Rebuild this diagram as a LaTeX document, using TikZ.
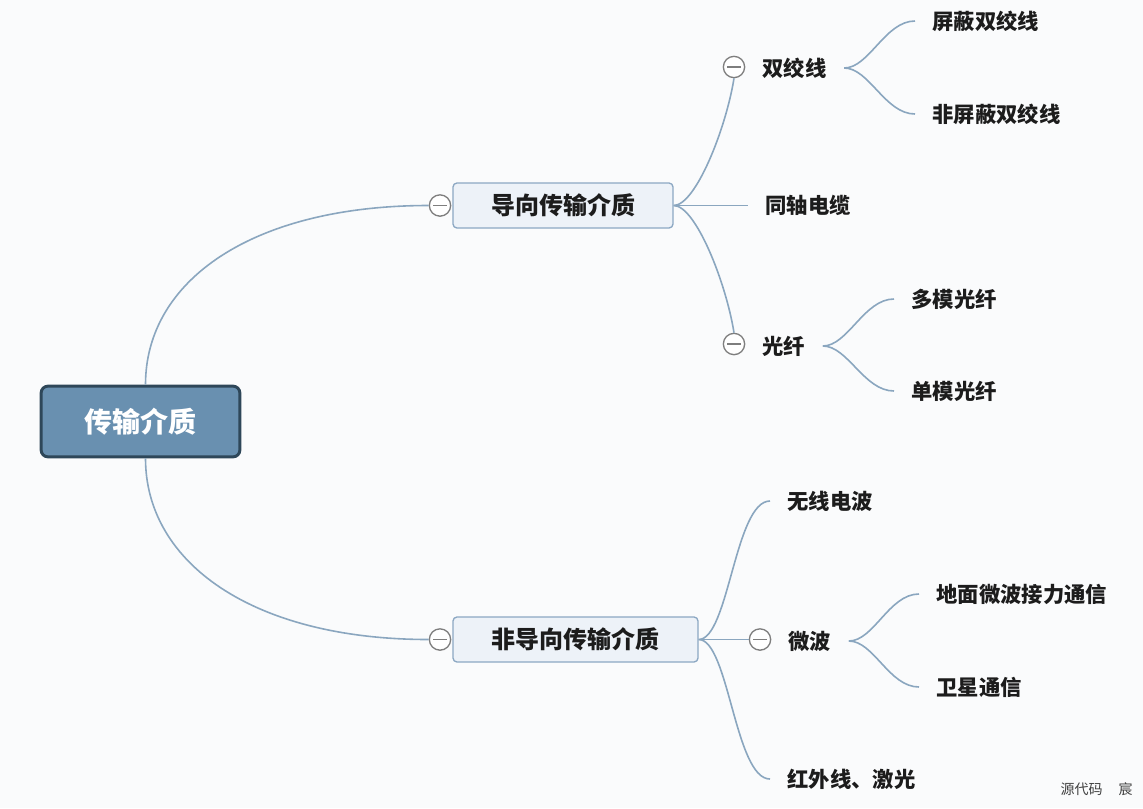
\documentclass[tikz,border=0pt]{standalone}
\usepackage{fontspec}
\setmainfont{Noto Sans CJK SC}
\definecolor{bgc}{HTML}{FAFBFC}
\definecolor{rootfill}{HTML}{6990B0}
\definecolor{rootborder}{HTML}{2E4759}
\definecolor{mainfill}{HTML}{EDF2F8}
\definecolor{mainborder}{HTML}{8CA8C3}
\definecolor{linkc}{HTML}{8AA6BF}
\definecolor{ink}{HTML}{1C1C1C}
\definecolor{togglec}{HTML}{7E7E7E}
\begin{document}
\begin{tikzpicture}[x=0.75pt,y=-0.75pt,
  conn/.style={draw=linkc,line width=1.2pt},
  rootbox/.style={rectangle,rounded corners=5pt,fill=rootfill,draw=rootborder,line width=2.2pt,
    minimum width=149pt,minimum height=53pt,text=white,font=\bfseries\fontsize{21}{24}\selectfont},
  mainbox/.style={rectangle,rounded corners=3pt,fill=mainfill,draw=mainborder,line width=1pt,
    minimum height=33.75pt,text=ink,font=\bfseries\fontsize{18}{20}\selectfont},
  toggle/.style={circle,draw=togglec,fill=white,minimum size=16pt,inner sep=0pt,line width=1pt,
    path picture={\draw[togglec,line width=1pt] ([xshift=-5pt]path picture bounding box.center) -- ([xshift=5pt]path picture bounding box.center);}},
  leaf/.style={anchor=west,inner xsep=13pt,inner ysep=2pt,text=ink,font=\bfseries\fontsize{16}{18}\selectfont}
]
\fill[bgc] (0,0) rectangle (1143,808);
\useasboundingbox (0,0) rectangle (1143,808);

% root and main nodes
\node[rootbox] (root) at (140.5,421.5) {传输介质};
\node[mainbox,minimum width=165pt] (g1) at (563,205.5) {导向传输介质};
\node[mainbox,minimum width=183.75pt] (g2) at (575.5,639.5) {非导向传输介质};
\node[toggle] (cg1) at (440,205.5) {};
\node[toggle] (cg2) at (440,639.5) {};

% guided children
\node[toggle] (ctw) at (734,67) {};
\node[leaf] (tw) at (745,68) {双绞线};
\node[leaf] (pb) at (915,21) {屏蔽双绞线};
\node[leaf] (fpb) at (915,114) {非屏蔽双绞线};
\node[leaf] (coax) at (748,205.5) {同轴电缆};
\node[toggle] (cfib) at (734,344) {};
\node[leaf] (fib) at (745,346) {光纤};
\node[leaf] (mm) at (894,299) {多模光纤};
\node[leaf] (sm) at (894,391) {单模光纤};

% unguided children
\node[leaf] (wl) at (770,501) {无线电波};
\node[toggle] (cmw) at (760,639.5) {};
\node[leaf] (mw) at (771,641) {微波};
\node[leaf] (gr) at (919,594) {地面微波接力通信};
\node[leaf] (sat) at (919,687) {卫星通信};
\node[leaf] (ir) at (770,779) {红外线、激光};

% connectors
\draw[conn] ([xshift=3.75pt]root.north) .. controls +(0,-105) and +(-175,0) .. (cg1.west);
\draw[conn] ([xshift=3.75pt]root.south) .. controls +(0,105) and +(-175,0) .. (cg2.west);

\draw[conn] (g1.east) .. controls +(22,0) and +(-8,50) .. (ctw.south);
\draw[conn] (g1.east) -- (coax.west);
\draw[conn] (g1.east) .. controls +(22,0) and +(-8,-50) .. (cfib.north);
\draw[conn] (tw.east) .. controls +(25,0) and +(-30,0) .. (pb.west);
\draw[conn] (tw.east) .. controls +(25,0) and +(-30,0) .. (fpb.west);
\draw[conn] (fib.east) .. controls +(25,0) and +(-30,0) .. (mm.west);
\draw[conn] (fib.east) .. controls +(25,0) and +(-30,0) .. (sm.west);

\draw[conn] (g2.east) .. controls +(30,0) and +(-35,0) .. (wl.west);
\draw[conn] (g2.east) -- (cmw.west);
\draw[conn] (g2.east) .. controls +(30,0) and +(-35,0) .. (ir.west);
\draw[conn] (mw.east) .. controls +(25,0) and +(-30,0) .. (gr.west);
\draw[conn] (mw.east) .. controls +(25,0) and +(-30,0) .. (sat.west);

% credit text
\node[anchor=east,inner sep=0pt,text=black!75,font=\fontsize{10.5}{12}\selectfont] (credit) at (1133,789) {源代码\hspace{12pt}宸};
\end{tikzpicture}
\end{document}
